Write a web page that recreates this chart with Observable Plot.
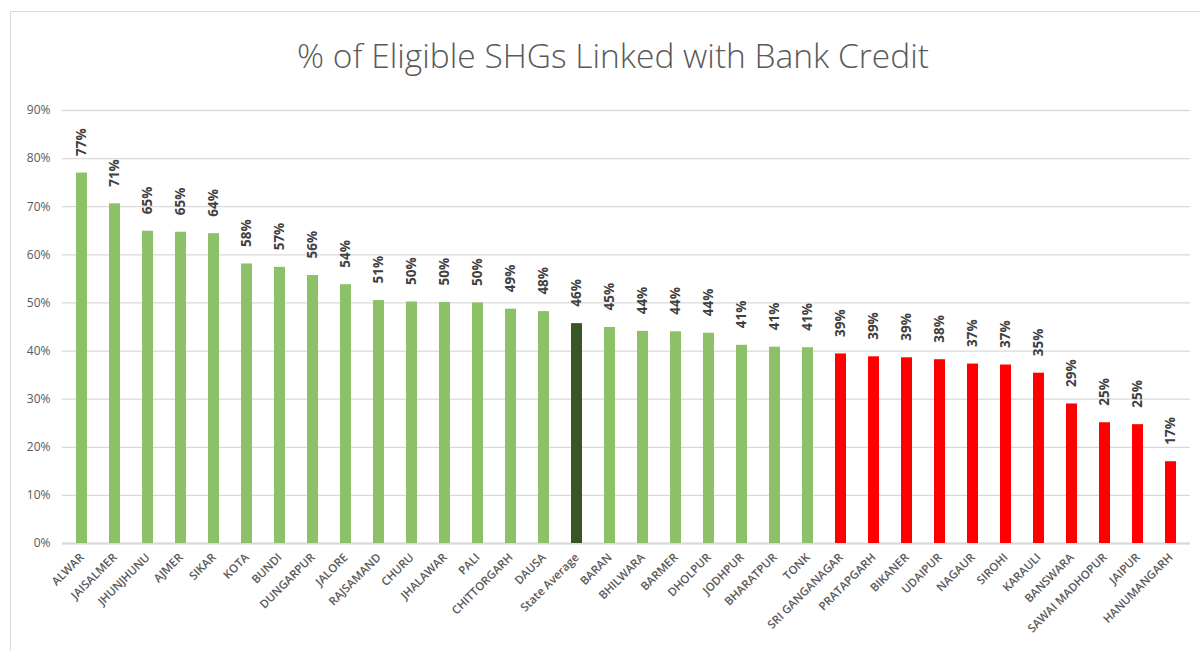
<!DOCTYPE html>
<html>
<head>
<meta charset="utf-8">
<script src="https://cdn.jsdelivr.net/npm/d3@7"></script>
<script src="https://cdn.jsdelivr.net/npm/@observablehq/plot@0.6"></script>
<style>
  body { margin: 0; background: #fff; }
  #wrap { position: relative; width: 1200px; height: 651px; overflow: hidden; background: #fff; }
  #frame { position: absolute; left: 10px; top: 11px; width: 1300px; height: 800px;
           border-top: 1.5px solid #d9d9d9; border-left: 1.5px solid #d9d9d9; }
  #title { position: absolute; left: 0; width: 1226px; top: 32px; text-align: center;
           font-family: "Open Sans", sans-serif; font-weight: 300; font-size: 33.5px; color: #595959; }
  #chart { position: absolute; left: 0; top: 0; }
</style>
</head>
<body>
<div id="wrap">
  <div id="frame"></div>
  <div id="chart"></div>
  <div id="title">% of Eligible SHGs Linked with Bank Credit</div>
</div>
<script>
const districts = ["ALWAR","JAISALMER","JHUNJHUNU","AJMER","SIKAR","KOTA","BUNDI","DUNGARPUR","JALORE","RAJSAMAND","CHURU","JHALAWAR","PALI","CHITTORGARH","DAUSA","State Average","BARAN","BHILWARA","BARMER","DHOLPUR","JODHPUR","BHARATPUR","TONK","SRI GANGANAGAR","PRATAPGARH","BIKANER","UDAIPUR","NAGAUR","SIROHI","KARAULI","BANSWARA","SAWAI MADHOPUR","JAIPUR","HANUMANGARH"];
const shares = [0.770,0.706,0.649,0.647,0.644,0.581,0.574,0.557,0.538,0.505,0.502,0.501,0.500,0.487,0.482,0.457,0.449,0.441,0.440,0.437,0.412,0.408,0.407,0.394,0.388,0.386,0.382,0.373,0.371,0.354,0.290,0.251,0.247,0.170];
const groups = ["above","above","above","above","above","above","above","above","above","above","above","above","above","above","above","average","above","above","above","above","above","above","above","below","below","below","below","below","below","below","below","below","below","below"];
const yTicks = [0,0.1,0.2,0.3,0.4,0.5,0.6,0.7,0.8,0.9];

const data = districts.map((d, i) => ({district: d, share: shares[i], group: groups[i]}));

const chart = Plot.plot({
  width: 1200,
  height: 651,
  marginTop: 110,
  marginBottom: 108,
  marginLeft: 62,
  marginRight: 10,
  style: {fontFamily: "Open Sans, sans-serif", background: "transparent"},
  x: {domain: districts, paddingInner: 0.67, paddingOuter: 0.335, align: 0.5},
  y: {domain: [0, 0.9]},
  color: {domain: ["above","average","below"], range: ["#8cc168","#375623","#ff0000"]},
  marks: [
    Plot.gridY(yTicks, {stroke: "#d9d9d9", strokeOpacity: 1, strokeWidth: 1.3}),
    Plot.ruleY([0], {stroke: "#d9d9d9", strokeWidth: 2}),
    Plot.axisY(yTicks, {tickSize: 0, tickPadding: 12, tickFormat: d3.format(".0%"), fontSize: 12, fill: "#595959", label: null}),
    Plot.axisX({tickSize: 0, tickPadding: 12, tickRotate: -45, fontSize: 11.5, fontWeight: 600, fill: "#595959", label: null}),
    Plot.barY(data, {x: "district", y: "share", fill: "group"}),
    Plot.text(data, {x: "district", y: "share", text: d => d3.format(".0%")(d.share), rotate: -90, textAnchor: "start", lineAnchor: "middle", dy: -17, fontSize: 13.5, fontWeight: 700, fill: "#404040"})
  ]
});
document.getElementById("chart").appendChild(chart);
</script>
</body>
</html>
